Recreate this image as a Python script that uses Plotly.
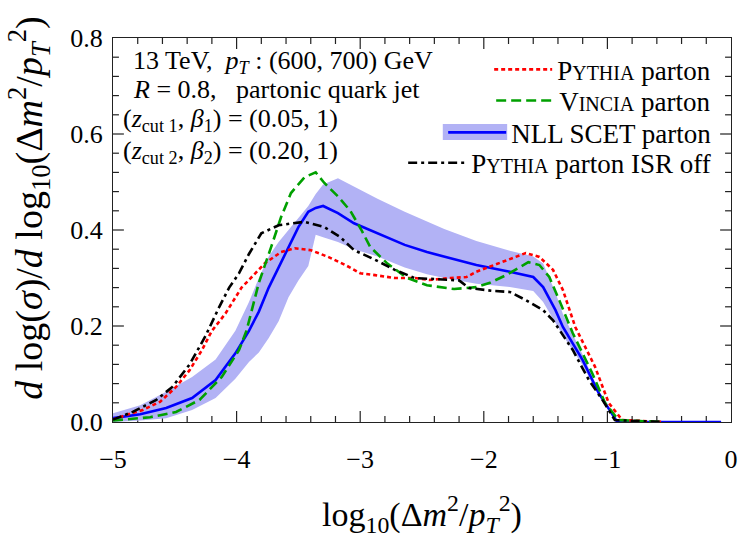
import plotly.graph_objects as go

# ---------------- data ----------------
x_red = [-5.0, -4.89, -4.76, -4.62, -4.49, -4.38, -4.28, -4.20, -4.09, -3.96, -3.90,
         -3.77, -3.64, -3.53, -3.40, -3.26, -3.12, -3.00, -2.88, -2.72, -2.56, -2.44,
         -2.27, -2.14, -2.06, -1.92, -1.79, -1.66, -1.55, -1.44, -1.36, -1.26, -1.10,
         -0.99, -0.88, -0.55]
y_red = [0.005, 0.015, 0.025, 0.042, 0.073, 0.108, 0.15, 0.19, 0.226, 0.28, 0.296,
         0.331, 0.354, 0.362, 0.358, 0.344, 0.327, 0.31, 0.306, 0.30, 0.30, 0.296,
         0.30, 0.302, 0.313, 0.327, 0.34, 0.352, 0.344, 0.317, 0.275, 0.198, 0.115,
         0.04, 0.004, 0.0]

x_green = [-5.0, -4.70, -4.49, -4.30, -4.12, -3.98, -3.92, -3.87, -3.82, -3.72, -3.64,
           -3.56, -3.45, -3.36, -3.29, -3.18, -3.08, -2.99, -2.92, -2.78, -2.62, -2.46,
           -2.24, -2.06, -1.95, -1.82, -1.71, -1.64, -1.55, -1.47, -1.39, -1.28, -1.12,
           -1.02, -0.91, -0.55]
y_green = [0.003, 0.01, 0.021, 0.046, 0.094, 0.15, 0.19, 0.24, 0.29, 0.365, 0.427,
           0.477, 0.51, 0.52, 0.498, 0.47, 0.44, 0.40, 0.365, 0.33, 0.30, 0.285,
           0.277, 0.281, 0.29, 0.306, 0.323, 0.333, 0.327, 0.302, 0.254, 0.185, 0.10,
           0.04, 0.004, 0.0]

x_nll = [-5.0, -4.78, -4.57, -4.36, -4.17, -4.01, -3.90, -3.82, -3.74, -3.66, -3.58,
         -3.50, -3.42, -3.36, -3.30, -3.18, -3.05, -2.86, -2.64, -2.46, -2.32, -2.06,
         -1.79, -1.60, -1.52, -1.42, -1.36, -1.20, -1.07, -0.92, -0.08]
y_nll = [0.008, 0.016, 0.029, 0.05, 0.0875, 0.143, 0.19, 0.23, 0.28, 0.323, 0.365,
         0.406, 0.438, 0.446, 0.45, 0.435, 0.414, 0.393, 0.369, 0.354, 0.344, 0.327,
         0.313, 0.302, 0.281, 0.233, 0.198, 0.129, 0.06, 0.0, 0.0]
y_nll_hi = [0.018, 0.035, 0.063, 0.094, 0.13, 0.19, 0.25, 0.30, 0.345, 0.375, 0.40,
            0.425, 0.45, 0.475, 0.495, 0.508, 0.49, 0.465, 0.438, 0.418, 0.402, 0.377,
            0.357, 0.345, 0.33, 0.27, 0.225, 0.14, 0.065, 0.0, 0.0]
y_nll_lo = [0.0, 0.003, 0.008, 0.025, 0.05, 0.09, 0.125, 0.145, 0.175, 0.21, 0.26,
            0.295, 0.325, 0.39, 0.385, 0.375, 0.36, 0.345, 0.322, 0.308, 0.30, 0.288,
            0.281, 0.273, 0.25, 0.205, 0.18, 0.118, 0.055, 0.0, 0.0]

x_isr = [-5.0, -4.84, -4.65, -4.52, -4.38, -4.25, -4.14, -4.06, -3.98, -3.90, -3.80,
         -3.66, -3.45, -3.29, -3.16, -3.05, -2.88, -2.72, -2.56, -2.32, -2.20, -2.12,
         -1.92, -1.79, -1.66, -1.52, -1.44, -1.28, -1.15, -1.04, -0.94, -0.55]
y_isr = [0.005, 0.021, 0.046, 0.073, 0.12, 0.18, 0.24, 0.28, 0.31, 0.35, 0.393,
         0.41, 0.417, 0.406, 0.385, 0.358, 0.338, 0.317, 0.30, 0.296, 0.295, 0.279,
         0.273, 0.271, 0.254, 0.233, 0.212, 0.15, 0.0875, 0.046, 0.004, 0.0]

x_range = [-5, 0]
y_range = [0.0, 0.8]
x_major, x_minor = 1, 0.2
y_major, y_minor = 0.2, 0.04

SC = "<span style='font-size:20px'>"
names = ["P" + SC + "YTHIA</span> parton",
         "V" + SC + "INCIA</span> parton",
         "NLL SCET parton",
         "P" + SC + "YTHIA</span> parton ISR off"]

BAND = "rgb(178,178,245)"
FONT = "Liberation Serif, Times New Roman, serif"
AX = "#222222"

# plot-area size in pixels (from the margins below) -> tick lengths in data units
W_PX, H_PX = 750 - 113 - 13, 538 - 38 - 116
XU = (x_range[1] - x_range[0]) / W_PX
YU = (y_range[1] - y_range[0]) / H_PX


def tick_values(lo, hi, step):
    n = int(round((hi - lo) / step))
    return [round(lo + k * step, 6) for k in range(1, n)]


def is_major(v, step):
    return abs(v / step - round(v / step)) < 1e-6


fig = go.Figure()

# ---- frame tick marks (drawn from the tick steps on all four sides) ----
tx, ty = [], []
for v in tick_values(x_range[0], x_range[1], x_minor):
    L = (11 if is_major(v, x_major) else 6) * YU
    tx += [v, v, None, v, v, None]
    ty += [y_range[0], y_range[0] + L, None, y_range[1], y_range[1] - L, None]
for v in tick_values(y_range[0], y_range[1], y_minor):
    L = (11 if is_major(v, y_major) else 6) * XU
    tx += [x_range[0], x_range[0] + L, None, x_range[1], x_range[1] - L, None]
    ty += [v, v, None, v, v, None]
fig.add_trace(go.Scatter(x=tx, y=ty, mode="lines", line=dict(color=AX, width=1.2),
                         showlegend=False, hoverinfo="skip"))

# uncertainty band
fig.add_trace(go.Scatter(x=x_nll, y=y_nll_lo, mode="lines", line=dict(width=0),
                         showlegend=False, hoverinfo="skip"))
fig.add_trace(go.Scatter(x=x_nll, y=y_nll_hi, mode="lines", line=dict(width=0),
                         fill="tonexty", fillcolor=BAND, showlegend=False,
                         hoverinfo="skip"))
fig.add_trace(go.Scatter(x=x_nll, y=y_nll, mode="lines", name=names[2],
                         line=dict(color="#0000ff", width=2.6), legend="legend3"))
fig.add_trace(go.Scatter(x=x_red, y=y_red, mode="lines", name=names[0],
                         line=dict(color="#ff0000", width=2.6, dash="4px,3px"),
                         legend="legend"))
fig.add_trace(go.Scatter(x=x_green, y=y_green, mode="lines", name=names[1],
                         line=dict(color="#00a000", width=2.6, dash="10px,5px"),
                         legend="legend2"))
fig.add_trace(go.Scatter(x=x_isr, y=y_isr, mode="lines", name=names[3],
                         line=dict(color="#000000", width=2.6, dash="9px,4px,3px,4px"),
                         legend="legend4"))

leg_common = dict(xanchor="right", yanchor="middle", bgcolor="rgba(0,0,0,0)",
                  borderwidth=0, itemwidth=58,
                  font=dict(family=FONT, size=27, color="black"))

fig.update_layout(
    width=750, height=538,
    margin=dict(l=113, r=13, t=38, b=116),
    plot_bgcolor="white", paper_bgcolor="white",
    font=dict(family=FONT, color="black"),
    legend=dict(x=0.976, y=0.917, **leg_common),
    legend2=dict(x=0.976, y=0.836, **leg_common),
    legend3=dict(x=0.976, y=0.753, **leg_common),
    legend4=dict(x=0.976, y=0.674, **leg_common),
    xaxis=dict(range=x_range, tickmode="linear", tick0=x_range[0], dtick=x_major,
               ticks="", showgrid=False, zeroline=False,
               showline=True, linecolor=AX, linewidth=1.3, mirror=True,
               ticklabelstandoff=14,
               tickfont=dict(family=FONT, size=26, color="black"),
               title=dict(text="log<sub>10</sub>(Δ<i>m</i><sup>2</sup>/<i>p</i><sub><i>T</i></sub><sup>2</sup>)",
                          font=dict(family=FONT, size=34), standoff=28)),
    yaxis=dict(range=y_range, tickmode="linear", tick0=0, dtick=y_major, tickformat=".1f",
               ticks="", showgrid=False, zeroline=False,
               showline=True, linecolor=AX, linewidth=1.3, mirror=True,
               ticklabelstandoff=4,
               tickfont=dict(family=FONT, size=26, color="black")),
)

# y-axis title
fig.add_annotation(
    text="<i>d</i> log(<i>σ</i>)/<i>d</i> log<sub>10</sub>(Δ<i>m</i><sup>2</sup>/<i>p</i><sub><i>T</i></sub><sup>2</sup>)",
    xref="paper", yref="paper", x=(28 - 113) / 624, y=(422 - 208) / 384,
    xanchor="center", yanchor="middle", textangle=-90, showarrow=False,
    font=dict(family=FONT, size=38, color="black"))

ann_font = dict(family=FONT, size=26, color="black")
ann_lines = [
    ("13 TeV,  <i>p<sub>T</sub></i> : (600, 700) GeV", 0.029, 0.9375),
    ("<i>R</i> = 0.8,   partonic quark jet", 0.029, 0.8646),
    ("(<i>z</i><sub>cut 1</sub>, <i>β</i><sub>1</sub>) = (0.05, 1)", 0.013, 0.786),
    ("(<i>z</i><sub>cut 2</sub>, <i>β</i><sub>2</sub>) = (0.20, 1)", 0.013, 0.703),
]
for txt, ax, ay in ann_lines:
    fig.add_annotation(text=txt, xref="paper", yref="paper", x=ax, y=ay,
                       xanchor="left", yanchor="middle", showarrow=False, font=ann_font)

# band swatch behind the NLL legend line
fig.add_shape(type="rect", xref="paper", yref="paper", layer="above",
              x0=(446 - 113) / 624, x1=(511 - 113) / 624,
              y0=(422 - 140) / 384, y1=(422 - 124) / 384,
              fillcolor=BAND, line=dict(width=0))

fig.write_html("out.html")
